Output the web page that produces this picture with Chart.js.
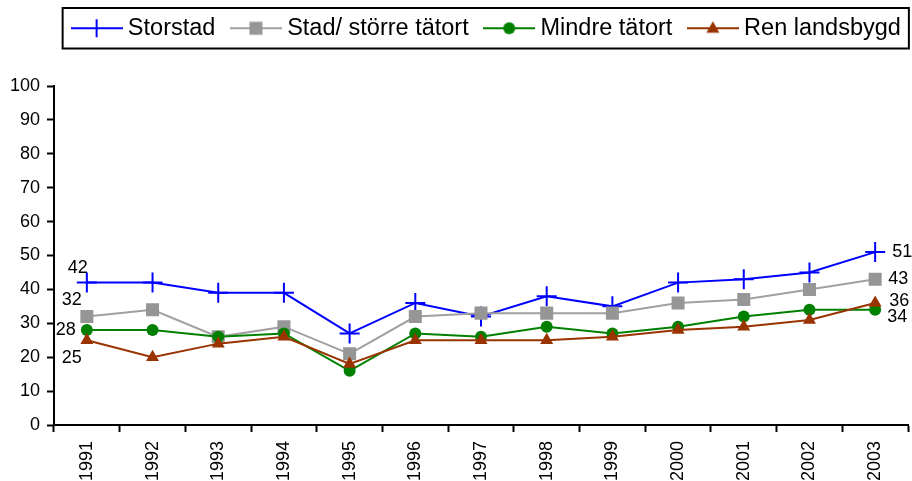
<!DOCTYPE html>
<html>
<head>
<meta charset="utf-8">
<script src="https://cdn.jsdelivr.net/npm/chart.js@4.4.1/dist/chart.umd.min.js"></script>
<style>
  html, body { margin: 0; padding: 0; background: #fff; }
  #wrap { width: 912px; height: 481px; position: relative; }
</style>
</head>
<body>
<div id="wrap"><canvas id="myChart"></canvas></div>
<script>
// data
const years = ['1991','1992','1993','1994','1995','1996','1997','1998','1999','2000','2001','2002','2003']
const storstad = [42, 42, 39, 39, 27, 36, 32, 38, 35, 42, 43, 45, 51]
const stad = [32, 34, 26, 29, 21, 32, 33, 33, 33, 36, 37, 40, 43]
const mindre = [28, 28, 26, 27, 16, 27, 26, 29, 27, 29, 32, 34, 34]
const ren = [25, 20, 24, 26, 18, 25, 25, 25, 26, 28, 29, 31, 36]
const seriesNames = ['Storstad', 'Stad/ större tätort', 'Mindre tätort', 'Ren landsbygd']
const yTicks = [0, 10, 20, 30, 40, 50, 60, 70, 80, 90, 100]

const FONT = "'Liberation Sans', Arial, sans-serif"

// little legend symbol: line with the marker in the middle
function legendIcon(color, fill, shape){
    const c = document.createElement('canvas')
    c.width = 52; c.height = 24
    const g = c.getContext('2d')
    g.strokeStyle = color; g.lineWidth = 2
    g.beginPath(); g.moveTo(0, 12); g.lineTo(52, 12); g.stroke()
    g.fillStyle = fill
    if(shape == 'cross'){
        g.beginPath(); g.moveTo(26, 3); g.lineTo(26, 21); g.stroke()
    } else if(shape == 'rect'){
        g.fillRect(19.5, 5.5, 13, 13)
    } else if(shape == 'circle'){
        g.beginPath(); g.arc(26, 12, 6, 0, Math.PI*2); g.fill()
    } else {
        g.beginPath(); g.moveTo(26, 5); g.lineTo(32.5, 16.5); g.lineTo(19.5, 16.5); g.closePath(); g.fill()
    }
    return c
}

// first / last value labels, offsets relative to the point
const labelPos = [
    {first: [1, -15, 'right'], last: [17, 0, 'left']},
    {first: [-5, -16, 'right'], last: [13, 0, 'left']},
    {first: [-11, 0, 'right'], last: [12, 7, 'left']},
    {first: [-5, 18, 'right'], last: [14, -2, 'left']}
]

const endLabels = {
    id: 'endLabels',
    afterDatasetsDraw(chart){
        const ctx = chart.ctx
        ctx.save()
        ctx.font = '18px ' + FONT
        ctx.fillStyle = '#000'
        ctx.textBaseline = 'middle'
        chart.data.datasets.forEach((ds, i) => {
            const pts = chart.getDatasetMeta(i).data
            const ends = [[0, labelPos[i].first], [pts.length - 1, labelPos[i].last]]
            ends.forEach(([k, p]) => {
                ctx.textAlign = p[2]
                ctx.fillText(String(ds.data[k]), pts[k].x + p[0], pts[k].y + p[1])
            })
        })
        ctx.restore()
    }
}

// legend sits in a framed box, a bit right of centre, chart area starts lower
const legendFrame = {
    id: 'legendFrame',
    beforeLayout(chart){
        const lg = chart.legend
        if(lg && !lg._patched){
            const fit = lg.fit
            lg.fit = function(){ fit.call(this); this.height = 86 }
            lg._patched = true
        }
    },
    afterLayout(chart){
        const lg = chart.legend
        lg.left += 35; lg.right += 35
        lg.top -= 4.5; lg.bottom -= 4.5
    },
    afterDraw(chart){
        const hb = chart.legend.legendHitBoxes
        if(!hb || !hb.length) return
        const first = hb[0], last = hb[hb.length - 1]
        const ctx = chart.ctx
        ctx.save()
        ctx.strokeStyle = '#000'
        ctx.lineWidth = 2
        const l = first.left - 14.5, t = first.top - 8.5
        const r = last.left + last.width + 8, b = first.top + first.height + 8.5
        ctx.strokeRect(l, t, r - l, b - t)
        ctx.restore()
    }
}

const ctx = document.getElementById('myChart')
const myChart = new Chart(ctx, {
    type: 'line',
    data: {
        labels: years,
        datasets: [{
            label: seriesNames[0],
            data: storstad,
            borderColor: '#0000FF',
            borderWidth: 2,
            pointStyle: 'cross',
            pointRadius: 10,
            pointBorderWidth: 2,
            pointBorderColor: '#0000FF',
            pointBackgroundColor: '#0000FF',
            order: 3,
            legendIcon: legendIcon('#0000FF', '#0000FF', 'cross')
        }, {
            label: seriesNames[1],
            data: stad,
            borderColor: '#A0A0A0',
            borderWidth: 2,
            pointStyle: 'rect',
            pointRadius: 9.2,
            pointBorderWidth: 0,
            pointBorderColor: '#969696',
            pointBackgroundColor: '#969696',
            order: 2,
            legendIcon: legendIcon('#A0A0A0', '#969696', 'rect')
        }, {
            label: seriesNames[2],
            data: mindre,
            borderColor: '#008000',
            borderWidth: 2,
            pointStyle: 'circle',
            pointRadius: 6,
            pointBorderWidth: 0,
            pointBorderColor: '#008000',
            pointBackgroundColor: '#008000',
            order: 1,
            legendIcon: legendIcon('#008000', '#008000', 'circle')
        }, {
            label: seriesNames[3],
            data: ren,
            borderColor: '#993300',
            borderWidth: 2,
            pointStyle: 'triangle',
            pointRadius: 7.5,
            pointBorderWidth: 0,
            pointBorderColor: '#993300',
            pointBackgroundColor: '#993300',
            order: 0,
            legendIcon: legendIcon('#993300', '#993300', 'triangle')
        }]
    },
    options: {
        responsive: true,
        maintainAspectRatio: false,
        animation: false,
        layout: { autoPadding: false, padding: { top: 0, right: 4, bottom: 0, left: 0 } },
        plugins: {
            tooltip: { enabled: false },
            legend: {
                position: 'top',
                align: 'center',
                labels: {
                    usePointStyle: true,
                    pointStyleWidth: 39,
                    padding: 21,
                    color: '#000',
                    font: { family: FONT, size: 23.5 },
                    sort: (a, b) => a.datasetIndex - b.datasetIndex,
                    generateLabels(chart){
                        return chart.data.datasets.map((ds, i) => ({
                            text: ds.label,
                            datasetIndex: i,
                            pointStyle: ds.legendIcon,
                            fillStyle: ds.borderColor,
                            strokeStyle: ds.borderColor,
                            lineWidth: 0,
                            hidden: false,
                            fontColor: '#000'
                        }))
                    }
                }
            }
        },
        scales: {
            x: {
                offset: true,
                grid: { offset: true, drawOnChartArea: false, tickLength: 7, tickColor: '#000', tickWidth: 2 },
                border: { color: '#000', width: 2 },
                ticks: { color: '#000', font: { family: FONT, size: 18 }, minRotation: 90, maxRotation: 90, padding: 9, autoSkip: false },
                afterFit(scale){
                    scale.height = 56
                    scale.paddingLeft = 0
                    scale.paddingRight = 0
                }
            },
            y: {
                min: 0,
                max: 100,
                afterBuildTicks(scale){ scale.ticks = yTicks.map(v => ({ value: v })) },
                grid: { drawOnChartArea: false, tickLength: 7, tickColor: '#000', tickWidth: 2 },
                border: { color: '#000', width: 2 },
                ticks: { color: '#000', font: { family: FONT, size: 18 }, padding: 7 },
                afterFit(scale){ scale.width = 54 }
            }
        }
    },
    plugins: [endLabels, legendFrame]
});
</script>
</body>
</html>
